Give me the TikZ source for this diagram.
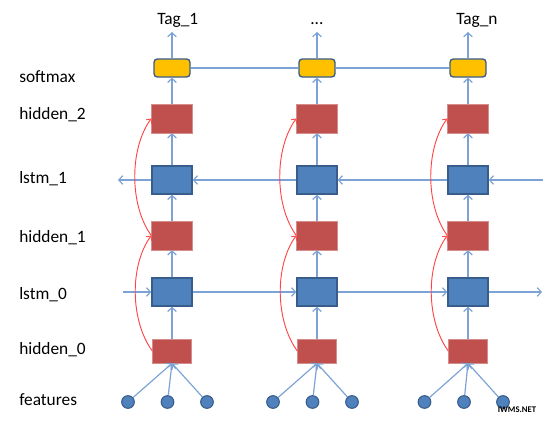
\documentclass[tikz,border=0pt]{standalone}
\usepackage{fontspec}
\setmainfont{Carlito}
\usetikzlibrary{arrows.meta}
\definecolor{lstmblue}{RGB}{79,129,189}
\definecolor{lstmedge}{RGB}{56,93,138}
\definecolor{hidred}{RGB}{192,80,77}
\definecolor{hidedge}{RGB}{214,140,138}
\definecolor{softyellow}{RGB}{255,192,0}
\definecolor{flowblue}{RGB}{125,163,214}
\definecolor{skipred}{RGB}{255,70,70}
\tikzset{
  lstmbox/.style={draw=lstmedge,line width=1pt,fill=lstmblue,minimum width=30pt,minimum height=21pt,inner sep=0pt},
  hidbox/.style={draw=hidedge,line width=0.5pt,fill=hidred,minimum width=30.5pt,minimum height=21.5pt,inner sep=0pt},
  hidlow/.style={hidbox,minimum width=29pt,minimum height=18pt},
  softbox/.style={draw=lstmedge,line width=1pt,fill=softyellow,rounded corners=2.5pt,minimum width=27pt,minimum height=13.5pt,inner sep=0pt},
  featdot/.style={circle,draw=lstmedge,line width=0.8pt,fill=lstmblue,minimum size=9.5pt,inner sep=0pt},
  flow/.style={draw=flowblue,line width=0.9pt,-{Straight Barb[length=3pt,width=6.5pt]}},
  plain/.style={draw=flowblue,line width=0.9pt},
  skip/.style={draw=skipred,line width=0.7pt,-{Straight Barb[length=2.5pt,width=5pt]}},
  rowlabel/.style={anchor=base west,inner sep=0pt,font=\fontsize{13}{15}\selectfont}
}
\begin{document}
\begin{tikzpicture}[x=0.75pt,y=0.75pt,yscale=-1,xscale=1]
\useasboundingbox (0,0) rectangle (550,421);

% Row labels
\node[rowlabel] (lsoft) at (19,82) {softmax};
\node[rowlabel] (lhid2) at (19,119) {hidden\_2};
\node[rowlabel] (llstm1) at (19,183) {lstm\_1};
\node[rowlabel] (lhid1) at (19,242) {hidden\_1};
\node[rowlabel] (llstm0) at (19,299) {lstm\_0};
\node[rowlabel] (lhid0) at (19,354) {hidden\_0};
\node[rowlabel] (lfeat) at (19,405) {features};

% Column 1
\node[softbox] (s1) at (172,68) {};
\node[hidbox] (h21) at (172,118.5) {};
\node[lstmbox] (l11) at (172,180) {};
\node[hidbox] (h11) at (172,235.5) {};
\node[lstmbox] (l01) at (172,292) {};
\node[hidlow] (h01) at (172,351) {};
\node[featdot] (f11) at (128,402) {};
\node[featdot] (f12) at (167.5,402) {};
\node[featdot] (f13) at (207,402) {};
\coordinate (t1) at (172,32);
\node[rowlabel] (tag1) at (157,25) {Tag\_1};

% Column 2
\node[softbox] (s2) at (317,68) {};
\node[hidbox] (h22) at (317,118.5) {};
\node[lstmbox] (l12) at (317,180) {};
\node[hidbox] (h12) at (317,235.5) {};
\node[lstmbox] (l02) at (317,292) {};
\node[hidlow] (h02) at (317,351) {};
\node[featdot] (f21) at (273,402) {};
\node[featdot] (f22) at (312.5,402) {};
\node[featdot] (f23) at (352,402) {};
\coordinate (t2) at (317,32);
\node[rowlabel] (tag2) at (310,24) {...};

% Column 3
\node[softbox] (s3) at (468,68) {};
\node[hidbox] (h23) at (468,118.5) {};
\node[lstmbox] (l13) at (468,180) {};
\node[hidbox] (h13) at (468,235.5) {};
\node[lstmbox] (l03) at (468,292) {};
\node[hidlow] (h03) at (468,351) {};
\node[featdot] (f31) at (424.5,402) {};
\node[featdot] (f32) at (464,402) {};
\node[featdot] (f33) at (503,402) {};
\coordinate (t3) at (468,32);
\node[rowlabel] (tag3) at (456,25) {Tag\_n};

% Upward flow
\draw[flow] (f11) -- (h01.south); \draw[flow] (f12) -- (h01.south); \draw[flow] (f13) -- (h01.south);
\draw[flow] (f21) -- (h02.south); \draw[flow] (f22) -- (h02.south); \draw[flow] (f23) -- (h02.south);
\draw[flow] (f31) -- (h03.south); \draw[flow] (f32) -- (h03.south); \draw[flow] (f33) -- (h03.south);
\draw[flow] (h01) -- (l01); \draw[flow] (l01) -- (h11); \draw[flow] (h11) -- (l11); \draw[flow] (l11) -- (h21); \draw[flow] (h21) -- (s1); \draw[flow] (s1) -- (t1);
\draw[flow] (h02) -- (l02); \draw[flow] (l02) -- (h12); \draw[flow] (h12) -- (l12); \draw[flow] (l12) -- (h22); \draw[flow] (h22) -- (s2); \draw[flow] (s2) -- (t2);
\draw[flow] (h03) -- (l03); \draw[flow] (l03) -- (h13); \draw[flow] (h13) -- (l13); \draw[flow] (l13) -- (h23); \draw[flow] (h23) -- (s3); \draw[flow] (s3) -- (t3);

% lstm_0 forward
\coordinate (in0) at (123,292);
\coordinate (out0) at (542,292);
\draw[flow] (in0) -- (l01); \draw[flow] (l01) -- (l02); \draw[flow] (l02) -- (l03); \draw[flow] (l03) -- (out0);

% lstm_1 backward
\coordinate (in1) at (543,180);
\coordinate (out1) at (118,180);
\draw[flow] (in1) -- (l13); \draw[flow] (l13) -- (l12); \draw[flow] (l12) -- (l11); \draw[flow] (l11) -- (out1);

% softmax link
\draw[plain] (s1) -- (s2); \draw[plain] (s2) -- (s3);

% skip connections
\draw[skip] (h01.west) .. controls ([shift={(-22,-30)}]h01.west) and ([shift={(-22,30)}]h11.west) .. (h11.west);
\draw[skip] (h11.west) .. controls ([shift={(-22,-30)}]h11.west) and ([shift={(-22,30)}]h21.west) .. (h21.west);
\draw[skip] (h02.west) .. controls ([shift={(-22,-30)}]h02.west) and ([shift={(-22,30)}]h12.west) .. (h12.west);
\draw[skip] (h12.west) .. controls ([shift={(-22,-30)}]h12.west) and ([shift={(-22,30)}]h22.west) .. (h22.west);
\draw[skip] (h03.west) .. controls ([shift={(-22,-30)}]h03.west) and ([shift={(-22,30)}]h13.west) .. (h13.west);
\draw[skip] (h13.west) .. controls ([shift={(-22,-30)}]h13.west) and ([shift={(-22,30)}]h23.west) .. (h23.west);

% Text Node
\node[inner sep=0pt,font=\fontsize{6.5}{7}\selectfont\bfseries] (wmark) at (517,410) {IWMS.NET};
\end{tikzpicture}
\end{document}
